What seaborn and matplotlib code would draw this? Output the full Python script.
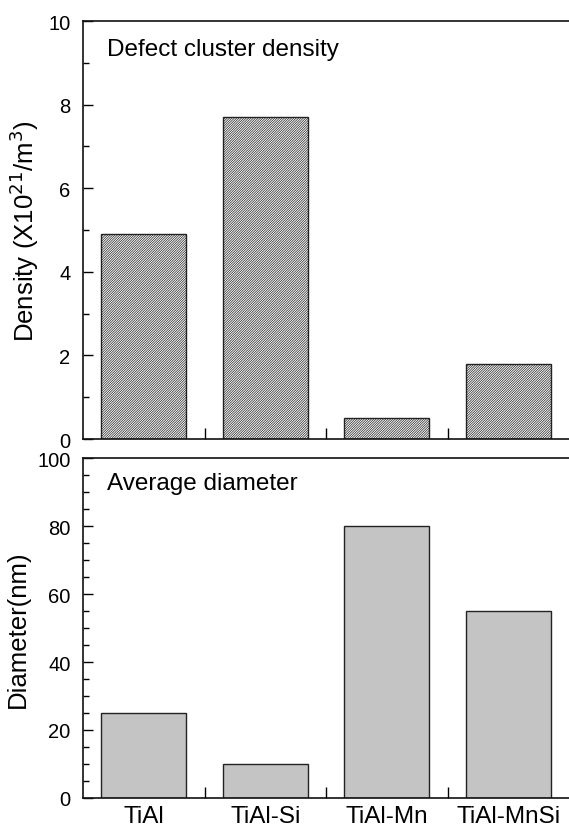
import matplotlib
matplotlib.use('Agg')
import matplotlib.pyplot as plt
import seaborn as sns
from matplotlib.ticker import MultipleLocator

# valeurs
alloys = ['TiAl', 'TiAl-Si', 'TiAl-Mn', 'TiAl-MnSi']
density = [4.9, 7.7, 0.5, 1.8]
diameter = [25, 10, 80, 55]

sns.set_style('ticks')
plt.rcParams['font.family'] = ['Liberation Sans', 'DejaVu Sans']
plt.rcParams['hatch.linewidth'] = 0.5
for k in ('text.color', 'axes.labelcolor', 'xtick.color', 'ytick.color'):
    plt.rcParams[k] = 'black'

fig = plt.figure(figsize=(5.69, 8.29), dpi=100)
ax1 = fig.add_axes([0.1459, 0.4692, 0.8541, 0.5042])
ax2 = fig.add_axes([0.1459, 0.0362, 0.8541, 0.4101])

# Densité
sns.barplot(x=alloys, y=density, color='white', width=0.7, edgecolor='#222222',
            linewidth=1.0, saturation=1, ax=ax1)
for p in ax1.patches:
    p.set_hatch('/' * 14)
ax1.set_ylim(0, 10)
ax1.set_xlim(-0.5, 3.5)
ax1.yaxis.set_major_locator(MultipleLocator(2))
ax1.yaxis.set_minor_locator(MultipleLocator(1))
ax1.set_xticks([0.5, 1.5, 2.5], minor=True)
ax1.set_xticklabels([])
ax1.set_ylabel('Density (X10$^{21}$/m$^3$)', fontsize=18.5, labelpad=5)
ax1.text(0.05, 0.96, 'Defect cluster density', transform=ax1.transAxes,
         fontsize=17.5, va='top', ha='left')

# Diamètre
sns.barplot(x=alloys, y=diameter, color='#c4c4c4', width=0.7, edgecolor='#222222',
            linewidth=1.0, saturation=1, ax=ax2)
ax2.set_ylim(0, 100)
ax2.set_xlim(-0.5, 3.5)
ax2.yaxis.set_major_locator(MultipleLocator(20))
ax2.yaxis.set_minor_locator(MultipleLocator(5))
ax2.set_xticks([0.5, 1.5, 2.5], minor=True)
ax2.set_ylabel('Diameter(nm)', fontsize=18.5, labelpad=5)
ax2.text(0.05, 0.96, 'Average diameter', transform=ax2.transAxes,
         fontsize=17.5, va='top', ha='left')

for ax in (ax1, ax2):
    ax.spines['right'].set_visible(False)
    for s in ('left', 'top', 'bottom'):
        ax.spines[s].set_linewidth(1.2)
        ax.spines[s].set_color('#111111')
    ax.tick_params(axis='y', which='major', direction='in', length=7, width=1,
                   labelsize=14.5, pad=9)
    ax.tick_params(axis='y', which='minor', direction='in', length=4, width=1)
    ax.tick_params(axis='x', which='major', length=0, labelsize=17.5, pad=5)
    ax.tick_params(axis='x', which='minor', direction='in', length=8, width=1)
    ax.set_xlabel('')

fig.savefig('out.png', dpi=100)
